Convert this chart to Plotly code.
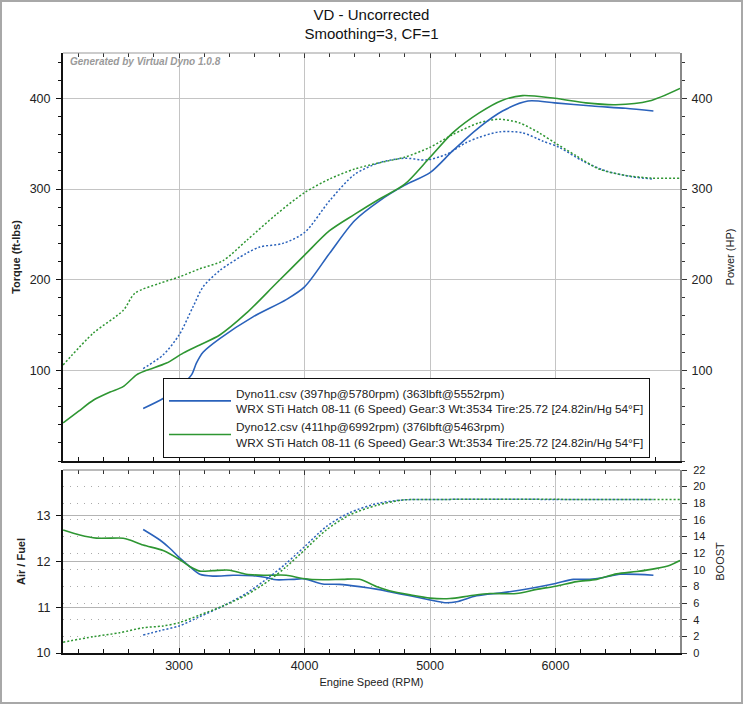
import plotly.graph_objects as go

# ---------------- data ----------------
g_hp_rpm = [2076, 2200, 2316, 2450, 2554, 2661, 2741, 2900, 3032, 3165, 3324, 3536, 3775, 4000,
            4199, 4398, 4597, 4796, 5000, 5180, 5392, 5578, 5737, 5994, 6241, 6480, 6745, 6992]
g_hp = [42, 55, 67, 76, 82, 95, 100, 108, 119, 128, 139, 163, 196, 227,
        254, 272, 289, 305, 335, 362, 384, 398, 403, 400, 395, 393, 397, 411]

g_tq_rpm = [2076, 2316, 2554, 2648, 2846, 3000, 3165, 3350, 3536, 3775, 4000, 4199, 4398, 4597,
            4796, 5000, 5180, 5392, 5551, 5710, 5869, 5994, 6161, 6347, 6558, 6770, 6992]
g_tq = [106, 141, 166, 185, 196, 203, 212, 221, 243, 272, 296, 311, 322, 329,
        335, 346, 360, 373, 377, 373, 362, 351, 337, 322, 315, 312, 312]

b_hp_rpm = [2714, 2873, 3005, 3099, 3138, 3191, 3324, 3589, 3854, 4000, 4199, 4398, 4597, 4796,
            5000, 5180, 5392, 5578, 5780, 5994, 6293, 6558, 6780]
b_hp = [58, 69, 82, 95, 108, 120, 135, 159, 178, 192, 229, 265, 287, 304,
        318, 342, 368, 386, 397, 395, 391.5, 389, 386]

b_tq_rpm = [2714, 2873, 3000, 3111, 3191, 3324, 3536, 3642, 3827, 4000, 4199, 4398, 4597, 4796,
            4968, 5127, 5286, 5392, 5552, 5737, 5896, 6029, 6215, 6400, 6611, 6780]
b_tq = [102, 117, 139, 170, 192, 210, 229, 236, 240, 252, 287, 316, 329, 334,
        332, 338, 351, 357, 363, 362, 353, 346, 331, 320, 313.5, 311]

b_afr_rpm = [2714, 2847, 2926, 3000, 3085, 3165, 3270, 3430, 3589, 3695, 3775, 3907, 4000, 4145,
             4278, 4438, 4584, 4676, 4841, 5000, 5119, 5212, 5371, 5583, 5796, 6000, 6142, 6275,
             6381, 6514, 6780]
b_afr = [12.70, 12.47, 12.29, 12.09, 11.89, 11.72, 11.68, 11.70, 11.69, 11.65, 11.60, 11.61, 11.62, 11.51,
         11.50, 11.45, 11.39, 11.34, 11.25, 11.16, 11.10, 11.12, 11.25, 11.32, 11.41, 11.52, 11.61, 11.61,
         11.65, 11.72, 11.70]

g_afr_rpm = [2076, 2209, 2341, 2554, 2608, 2714, 2873, 3000, 3085, 3165, 3270, 3403, 3536, 3695,
             3854, 3986, 4145, 4304, 4438, 4584, 4676, 4841, 5000, 5159, 5318, 5477, 5690, 5849,
             6000, 6169, 6328, 6487, 6647, 6806, 6912, 6992]
g_afr = [12.69, 12.58, 12.51, 12.51, 12.47, 12.36, 12.24, 12.05, 11.89, 11.79, 11.80, 11.81, 11.72, 11.70,
         11.70, 11.63, 11.60, 11.61, 11.61, 11.44, 11.36, 11.27, 11.20, 11.19, 11.25, 11.30, 11.30, 11.39,
         11.46, 11.56, 11.61, 11.73, 11.78, 11.85, 11.92, 12.02]

g_boost_rpm = [2076, 2316, 2528, 2714, 2873, 3000, 3165, 3350, 3536, 3722, 3854, 4000, 4172, 4358,
               4584, 4784, 4900, 6992]
g_boost = [1.3, 1.96, 2.44, 3.04, 3.25, 3.64, 4.57, 5.65, 6.97, 8.77, 10.37, 12.38, 14.78, 16.59,
           17.79, 18.4, 18.45, 18.45]

b_boost_rpm = [2714, 2847, 3000, 3165, 3350, 3536, 3722, 3854, 4000, 4172, 4358, 4584, 4784, 4900, 6780]
b_boost = [2.16, 2.68, 3.25, 4.37, 5.65, 7.17, 9.17, 10.78, 12.78, 15.18, 16.86, 17.99, 18.4, 18.45, 18.45]

legend_blue = ("Dyno11.csv (397hp@5780rpm) (363lbft@5552rpm)<br>"
               "WRX STi Hatch 08-11 (6 Speed) Gear:3 Wt:3534 Tire:25.72 [24.82in/Hg 54°F]")
legend_green = ("Dyno12.csv (411hp@6992rpm) (376lbft@5463rpm)<br>"
                "WRX STi Hatch 08-11 (6 Speed) Gear:3 Wt:3534 Tire:25.72 [24.82in/Hg 54°F]")

title_text = "VD - Uncorrected<br>Smoothing=3, CF=1"
watermark = "Generated by Virtual Dyno 1.0.8"

x_range = [2075, 6992]
tq_range = [0, 450]
afr_range = [10, 14]
boost_range = [0, 22]

BLUE = "#2a62bb"
GREEN = "#2e9632"
FONT = "Liberation Sans, Arial, sans-serif"

# ---------------- figure ----------------
fig = go.Figure()

def line(x, y, color, dash, xa, ya, name=None, show=False):
    fig.add_trace(go.Scatter(
        x=x, y=y, mode="lines", name=name or "", showlegend=show,
        line=dict(color=color, width=1.6 if dash == "solid" else 1.5,
                  dash=dash if dash == "solid" else "2px,2px",
                  shape="spline", smoothing=0.8),
        xaxis=xa, yaxis=ya, hoverinfo="skip"))

# top plot
line(b_hp_rpm, b_hp, BLUE, "solid", "x", "y2", legend_blue, True)
line(g_hp_rpm, g_hp, GREEN, "solid", "x", "y2", legend_green, True)
line(b_tq_rpm, b_tq, BLUE, "dot", "x", "y")
line(g_tq_rpm, g_tq, GREEN, "dot", "x", "y")
# bottom plot
line(b_afr_rpm, b_afr, BLUE, "solid", "x2", "y3")
line(g_afr_rpm, g_afr, GREEN, "solid", "x2", "y3")
line(b_boost_rpm, b_boost, BLUE, "dot", "x2", "y4")
line(g_boost_rpm, g_boost, GREEN, "dot", "x2", "y4")
# empty traces to carry the top-edge tick axes
fig.add_trace(go.Scatter(x=[], y=[], xaxis="x3", yaxis="y", showlegend=False, hoverinfo="skip"))
fig.add_trace(go.Scatter(x=[], y=[], xaxis="x4", yaxis="y3", showlegend=False, hoverinfo="skip"))

tickfont = dict(family=FONT, size=12.5, color="#222")
grid = "#c4c4c4"

common_x = dict(range=x_range, tick0=0, dtick=1000, showgrid=True, gridcolor=grid, gridwidth=1,
                zeroline=False, showline=True, linecolor="#111", linewidth=2,
                ticks="inside", ticklen=5, tickcolor="#111",
                minor=dict(dtick=200, tick0=0, ticks="inside", ticklen=4, tickcolor="#111", showgrid=False),
                automargin=False, fixedrange=True)
top_x = dict(range=x_range, tick0=0, dtick=1000, showgrid=False, zeroline=False, showline=False,
             ticks="inside", ticklen=5, tickcolor="#333", showticklabels=False, side="top",
             minor=dict(dtick=200, tick0=0, ticks="inside", ticklen=4, tickcolor="#333"),
             automargin=False)

fig.update_layout(
    width=743, height=704,
    margin=dict(l=63, r=63, t=53, b=51),
    paper_bgcolor="white", plot_bgcolor="white",
    font=dict(family=FONT, size=12, color="#222"),
    title=dict(text=title_text, x=0.5, xanchor="center", xref="paper",
               y=0.972, yanchor="top", yref="container",
               font=dict(family=FONT, size=15, color="#111")),
    xaxis=dict(common_x, domain=[0, 1], anchor="y", showticklabels=False),
    xaxis3=dict(top_x, overlaying="x", anchor="y"),
    xaxis2=dict(common_x, domain=[0, 1], anchor="y3", showticklabels=True, tickfont=tickfont,
                title=dict(text="Engine Speed (RPM)", standoff=6,
                           font=dict(family=FONT, size=11, color="#222"))),
    xaxis4=dict(top_x, overlaying="x2", anchor="y3"),
    yaxis=dict(domain=[0.32, 1], anchor="x", range=tq_range, tick0=0, dtick=100,
               tickvals=[100, 200, 300, 400],
               showgrid=True, gridcolor=grid, zeroline=False,
               showline=True, linecolor="#111", linewidth=2,
               ticks="outside", ticklen=5, tickcolor="#111", tickfont=tickfont, ticklabelstandoff=3,
               minor=dict(dtick=20, tick0=0, ticks="outside", ticklen=3, tickcolor="#111"),
               title=dict(text="<b>Torque (ft-lbs)</b>", standoff=7,
                          font=dict(family=FONT, size=11, color="#222")),
               automargin=False, fixedrange=True),
    yaxis2=dict(overlaying="y", side="right", anchor="x", range=tq_range, tick0=0, dtick=100,
                tickvals=[100, 200, 300, 400],
                showgrid=False, zeroline=False,
                showline=True, linecolor="#888", linewidth=2,
                ticks="outside", ticklen=5, tickcolor="#333", tickfont=tickfont, ticklabelstandoff=2,
                minor=dict(dtick=20, tick0=0, ticks="outside", ticklen=3, tickcolor="#333"),
                title=dict(text="Power (HP)", standoff=15,
                           font=dict(family=FONT, size=11, color="#222")),
                automargin=False, fixedrange=True),
    yaxis3=dict(domain=[0, 0.305], anchor="x2", range=afr_range, dtick=1, tick0=10,
                tickvals=[10, 11, 12, 13],
                showgrid=True, gridcolor="#b4b4b4", zeroline=False,
                showline=True, linecolor="#111", linewidth=2,
                ticks="outside", ticklen=5, tickcolor="#111", tickfont=tickfont, ticklabelstandoff=3,
                title=dict(text="<b>Air / Fuel</b>", standoff=9,
                           font=dict(family=FONT, size=11, color="#222")),
                automargin=False, fixedrange=True),
    yaxis4=dict(overlaying="y3", side="right", anchor="x2", range=boost_range, dtick=2, tick0=0,
                showgrid=True, gridcolor="#aaaaaa", griddash="1px,6px", gridwidth=1, zeroline=False,
                showline=True, linecolor="#888", linewidth=2,
                ticks="outside", ticklen=5, tickcolor="#333",
                tickfont=dict(family=FONT, size=11, color="#222"), ticklabelstandoff=4,
                title=dict(text="BOOST", standoff=12,
                           font=dict(family=FONT, size=11, color="#222")),
                automargin=False, fixedrange=True),
    legend=dict(x=100 / 617, y=(653 - 458) / 600, xanchor="left", yanchor="bottom",
                bgcolor="white", bordercolor="#111", borderwidth=1,
                font=dict(family=FONT, size=11.8, color="#222"),
                itemwidth=62, tracegroupgap=2, itemclick=False, itemdoubleclick=False),
    showlegend=True,
)

# watermark
fig.add_annotation(text="<b><i>" + watermark + "</i></b>", xref="x domain", yref="y domain",
                   x=0.008, y=1, xanchor="left", yanchor="top", yshift=-1, showarrow=False,
                   font=dict(family=FONT, size=10, color="#9a9a9a"))

# gray top edges of both plots and outer frame
fig.add_shape(type="line", xref="x domain", yref="y domain", x0=0, x1=1, y0=1, y1=1,
              line=dict(color="#999", width=1))
fig.add_shape(type="line", xref="x2 domain", yref="y3 domain", x0=0, x1=1, y0=1, y1=1,
              line=dict(color="#777", width=1))
fig.add_shape(type="rect", xref="paper", yref="paper",
              x0=-62 / 617, x1=1 + 62 / 617, y0=-50 / 600, y1=1 + 52 / 600,
              line=dict(color="#a8a8a8", width=2), layer="below")

fig.write_html("out.html", config={"displayModeBar": False},
               post_script="document.body.style.margin='0px';document.body.style.overflow='hidden';")
